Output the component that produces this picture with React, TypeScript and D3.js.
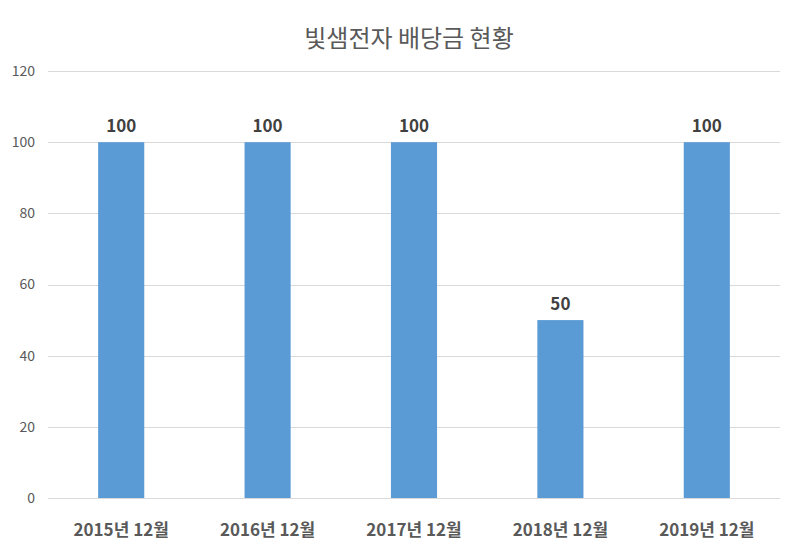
import React, { useEffect, useRef } from 'react';
import * as d3 from 'd3';

const title = '빛샘전자 배당금 현황';
const categories = ['2015년 12월', '2016년 12월', '2017년 12월', '2018년 12월', '2019년 12월'];
const dividends = [100, 100, 100, 50, 100];
const yTicks = [0, 20, 40, 60, 80, 100, 120];

const width = 800;
const height = 557;
const margin = { top: 71, right: 20, bottom: 59, left: 48 };
const font = '"Noto Sans CJK KR", "Noto Sans", sans-serif';

const App: React.FC = () => {
  const ref = useRef<SVGSVGElement>(null);

  useEffect(() => {
    if (!ref.current) return;
    const svg = d3.select(ref.current);
    svg.selectAll('*').remove();

    const x = d3
      .scaleBand<string>()
      .domain(categories)
      .range([margin.left, width - margin.right])
      .padding(0);
    const y = d3
      .scaleLinear()
      .domain([0, 120])
      .range([height - margin.bottom, margin.top]);

    const barW = x.bandwidth() * 0.315;

    svg
      .append('text')
      .attr('x', 409)
      .attr('y', 47)
      .attr('text-anchor', 'middle')
      .attr('font-family', font)
      .attr('font-size', 24)
      .attr('fill', '#595959')
      .text(title);

    // gridlines
    svg
      .append('g')
      .selectAll('line')
      .data(yTicks)
      .join('line')
      .attr('x1', margin.left)
      .attr('x2', width - margin.right)
      .attr('y1', (d) => Math.round(y(d)) + 0.5)
      .attr('y2', (d) => Math.round(y(d)) + 0.5)
      .attr('stroke', '#d9d9d9')
      .attr('stroke-width', 1);

    svg
      .append('g')
      .selectAll('text')
      .data(yTicks)
      .join('text')
      .attr('x', 35)
      .attr('y', (d) => y(d))
      .attr('dy', '0.35em')
      .attr('text-anchor', 'end')
      .attr('font-family', font)
      .attr('font-size', 14)
      .attr('fill', '#595959')
      .text((d) => d);

    svg
      .append('g')
      .selectAll('rect')
      .data(dividends)
      .join('rect')
      .attr('x', (_, i) => x(categories[i])! + x.bandwidth() / 2 - barW / 2)
      .attr('y', (d) => y(d))
      .attr('width', barW)
      .attr('height', (d) => y(0) - y(d))
      .attr('fill', '#5b9bd5');

    svg
      .append('g')
      .selectAll('text')
      .data(dividends)
      .join('text')
      .attr('x', (_, i) => x(categories[i])! + x.bandwidth() / 2)
      .attr('y', (d) => y(d) - 10)
      .attr('text-anchor', 'middle')
      .attr('font-family', font)
      .attr('font-size', 17)
      .attr('font-weight', 'bold')
      .attr('fill', '#404040')
      .text((d) => d);

    svg
      .append('g')
      .selectAll('text')
      .data(categories)
      .join('text')
      .attr('x', (d) => x(d)! + x.bandwidth() / 2)
      .attr('y', y(0) + 38)
      .attr('text-anchor', 'middle')
      .attr('font-family', font)
      .attr('font-size', 17)
      .attr('font-weight', 'bold')
      .attr('fill', '#595959')
      .text((d) => d);
  }, []);

  return (
    <svg
      ref={ref}
      width={width}
      height={height}
      style={{ position: 'absolute', left: 0, top: 0, background: '#fff' }}
    />
  );
};

export default App;
